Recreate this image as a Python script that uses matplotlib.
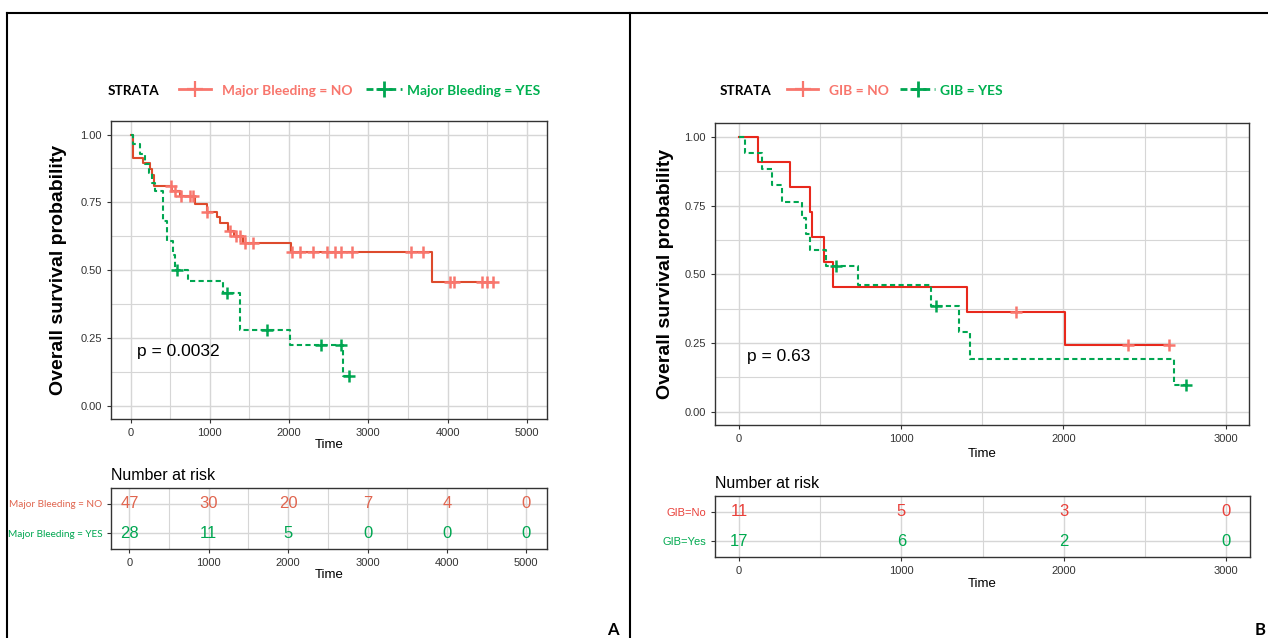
import numpy as np
import matplotlib
matplotlib.use("Agg")
import matplotlib.pyplot as plt
from matplotlib.lines import Line2D

# ---- panel A : major bleeding ----
no_t = [0, 35, 150, 245, 265, 290, 526, 622, 812, 959, 1085, 1128, 1233, 1305, 1414, 2020, 3800, 4580]
no_s = [1.0, 0.915, 0.894, 0.872, 0.851, 0.809, 0.791, 0.772, 0.745, 0.715, 0.696, 0.674, 0.643, 0.625,
        0.600, 0.567, 0.455, 0.455]
no_cens = [509, 560, 631, 749, 790, 960, 1254, 1330, 1380, 1444, 1545, 2040, 2138, 2306, 2475, 2580,
           2652, 2790, 3539, 3694, 4032, 4082, 4440, 4502, 4578]
yes_t = [0, 30, 115, 180, 230, 265, 307, 410, 455, 530, 560, 728, 1170, 1380, 2012, 2680, 2760]
yes_s = [1.0, 0.964, 0.929, 0.893, 0.857, 0.821, 0.791, 0.68, 0.607, 0.557, 0.50, 0.459, 0.418, 0.28,
         0.225, 0.112, 0.112]
yes_cens = [580, 1212, 1717, 2400, 2650, 2760]
risk_a_times = [0, 1000, 2000, 3000, 4000, 5000]
risk_a_no = [47, 30, 20, 7, 4, 0]
risk_a_yes = [28, 11, 5, 0, 0, 0]
pval_a = "p = 0.0032"

# ---- panel B : GIB ----
gno_t = [0, 116, 318, 440, 452, 526, 580, 1407, 2010, 2648]
gno_s = [1.0, 0.909, 0.818, 0.727, 0.636, 0.545, 0.455, 0.364, 0.242, 0.242]
gno_cens = [1709, 2400, 2648]
gyes_t = [0, 39, 144, 202, 267, 387, 417, 438, 538, 735, 1182, 1356, 1424, 2683, 2757]
gyes_s = [1.0, 0.941, 0.882, 0.824, 0.765, 0.706, 0.647, 0.588, 0.529, 0.463, 0.386, 0.289, 0.193,
          0.096, 0.096]
gyes_cens = [596, 1217, 2757]
risk_b_times = [0, 1000, 2000, 3000]
risk_b_no = [11, 5, 3, 0]
risk_b_yes = [17, 6, 2, 0]
pval_b = "p = 0.63"

ARIAL = "Liberation Sans"
CALI = "Lato"
SALMON = "#F8766D"
GREEN = "#00B050"
TICKC = "#333333"
GRIDC = "#d6d6d6"

plt.rcParams["font.family"] = ARIAL

W, H = 1268, 638
fig = plt.figure(figsize=(W / 100, H / 100), dpi=100)


def box(l, t, r, b):
    # pixel box -> figure fraction rect
    return [l / W, 1 - b / H, (r - l) / W, (b - t) / H]


def km(ax, t, s, cens, col, ccol, ls):
    ax.step(t, s, where="post", color=col, lw=1.5, ls=ls, zorder=3)
    idx = np.searchsorted(t, cens, side="right") - 1
    ax.plot(cens, np.array(s)[idx], "+", color=ccol, ms=8, mew=1.8, zorder=4)


def style(ax, xticks, xlim):
    ax.set_xlim(*xlim)
    ax.set_xticks(xticks)
    ax.set_xticks(np.array(xticks[:-1]) + 500, minor=True)
    ax.grid(which="major", color=GRIDC, lw=1.0)
    ax.grid(which="minor", color=GRIDC, lw=0.8)
    ax.set_axisbelow(True)
    for sp in ax.spines.values():
        sp.set_color("#333333")
        sp.set_linewidth(1.0)
    ax.tick_params(which="major", labelsize=8, labelcolor=TICKC, color="#333333", length=3, width=0.8)
    ax.tick_params(which="minor", length=0)


def main_panel(rect, t1, s1, c1, t2, s2, c2, red, xticks, xlim, pval, px, ylab_x, xl_pad):
    ax = fig.add_axes(rect)
    km(ax, t1, s1, c1, red, SALMON, "-")
    km(ax, t2, s2, c2, "#00A651", "#00A651", (0, (2.5, 1.6)))
    style(ax, xticks, xlim)
    ax.set_ylim(-0.048, 1.05)
    ax.set_yticks([0, 0.25, 0.5, 0.75, 1.0])
    ax.set_yticklabels(["0.00", "0.25", "0.50", "0.75", "1.00"])
    ax.set_yticks([0.125, 0.375, 0.625, 0.875], minor=True)
    ax.set_xlabel("Time", fontsize=9.5, labelpad=xl_pad)
    ax.set_ylabel("Overall survival probability", fontsize=14, fontweight="bold")
    ax.yaxis.set_label_coords(ylab_x, 0.5)
    ax.text(px, 0.2, pval, fontsize=12.5, va="center", ha="left")
    return ax


def risk_panel(rect, times, n_no, n_yes, red, green, labels, label_font, label_size, xticks, xlim):
    ax = fig.add_axes(rect)
    style(ax, xticks, xlim)
    ax.set_ylim(0.45, 2.55)
    ax.set_yticks([2, 1])
    ax.set_yticklabels(labels, fontsize=label_size, family=label_font)
    for lab, c in zip(ax.get_yticklabels(), [red, green]):
        lab.set_color(c)
    for x, a, b in zip(times, n_no, n_yes):
        ax.text(x, 2, str(a), color=red, fontsize=12, ha="center", va="center")
        ax.text(x, 1, str(b), color=green, fontsize=12, ha="center", va="center")
    ax.set_xlabel("Time", fontsize=9.5, labelpad=1)
    ax.text(0, 1.08, "Number at risk", transform=ax.transAxes, fontsize=11.5, ha="left", va="bottom")
    return ax


# panel A
main_panel(box(110.7, 121, 547, 419), no_t, no_s, no_cens, yes_t, yes_s, yes_cens, "#DD4A2C",
           [0, 1000, 2000, 3000, 4000, 5000], (-252, 5256), pval_a, 85, -0.10, 1)
risk_panel(box(111.3, 488, 547.2, 549), risk_a_times, risk_a_no, risk_a_yes, "#E0654F", "#00A651",
           ["Major Bleeding = NO", "Major Bleeding = YES"], CALI, 7.2,
           [0, 1000, 2000, 3000, 4000, 5000], (-228, 5263))

# panel B
main_panel(box(715.1, 123.3, 1249.4, 425), gno_t, gno_s, gno_cens, gyes_t, gyes_s, gyes_cens, "#E8281C",
           [0, 1000, 2000, 3000], (-146, 3146), pval_b, 50, -0.076, 3)
risk_panel(box(715.4, 495.7, 1249.6, 557.3), risk_b_times, risk_b_no, risk_b_yes, "#E8403A", "#00A94F",
           ["GIB=No", "GIB=Yes"], ARIAL, 8, [0, 1000, 2000, 3000], (-146, 3146))

# overlay in pixel coordinates: frame, legends, panel letters
ov = fig.add_axes([0, 0, 1, 1])
ov.set_xlim(0, W)
ov.set_ylim(H, 0)
ov.axis("off")
ov.patch.set_alpha(0)
for xs, ys in [([7, W], [13, 13]), ([7, 7], [13, H]), ([630, 630], [13, H])]:
    ov.add_line(Line2D(xs, ys, color="black", lw=1.5))


def legend(x0, key1, txt1, key2, txt2):
    ov.text(x0, 91, "STRATA", family=CALI, fontweight="bold", fontsize=9.8, va="center", ha="left")
    ov.add_line(Line2D(key1, [89, 89], color=SALMON, lw=2.0))
    ov.plot([sum(key1) / 2], [89], "+", color=SALMON, ms=11, mew=1.6)
    ov.text(key1[1] + 11, 91, txt1, color=SALMON, family=CALI, fontweight="bold", fontsize=9.9,
            va="center", ha="left")
    ov.add_line(Line2D(key2, [89, 89], color="#00A651", lw=2.0, ls=(0, (2.5, 1.6))))
    ov.plot([sum(key2) / 2], [89], "+", color="#00A651", ms=11, mew=2.0)
    ov.text(key2[1] + 5, 91, txt2, color=GREEN, family=CALI, fontweight="bold", fontsize=9.9,
            va="center", ha="left")


legend(108, [179, 211], "Major Bleeding = NO", [366, 402], "Major Bleeding = YES")
legend(720, [787, 818], "GIB = NO", [900, 935], "GIB = YES")

ov.text(613, 630, "A", fontsize=12, fontweight="bold", family=CALI, ha="center", va="center")
ov.text(1255, 630, "B", fontsize=12, fontweight="bold", family=CALI, ha="left", va="center")

fig.savefig("out.png", dpi=100)
